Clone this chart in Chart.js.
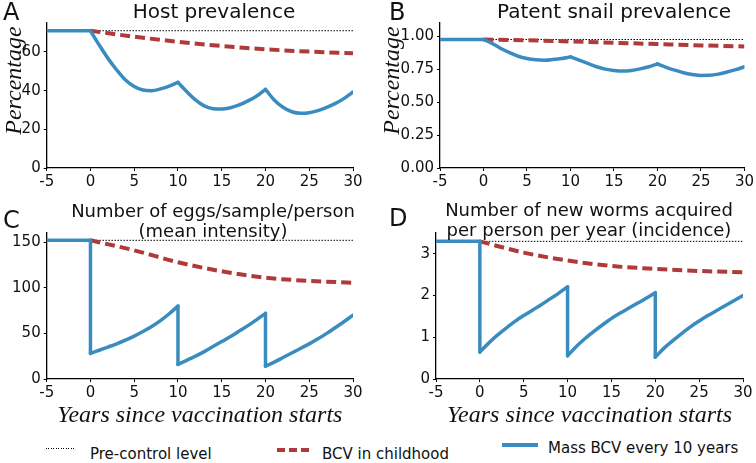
<!DOCTYPE html>
<html>
<head>
<meta charset="utf-8">
<script src="https://cdn.jsdelivr.net/npm/chart.js@4.4.0/dist/chart.umd.min.js"></script>
<style>
  body { margin: 0; background: #fff; width: 756px; height: 463px; position: relative; overflow: hidden;
         font-family: "DejaVu Sans", sans-serif; color: #111; }
  canvas { position: absolute; }
  .ttl { position: absolute; font-size: 18px; line-height: 20px; white-space: nowrap; text-align: center; transform: translateX(-50%); }
  .big { font-size: 20px; line-height: 22px; }
  .letter { position: absolute; font-size: 24px; line-height: 24px; }
  .lg { position: absolute; font-size: 15px; line-height: 18px; white-space: nowrap; }
  .sw { position: absolute; }
</style>
</head>
<body>
<canvas id="chartA" width="378" height="200" style="left:0;top:0"></canvas>
<canvas id="chartB" width="378" height="200" style="left:378px;top:0"></canvas>
<canvas id="chartC" width="378" height="235" style="left:0;top:200px"></canvas>
<canvas id="chartD" width="378" height="235" style="left:378px;top:200px"></canvas>

<div class="letter" style="left:3px;top:0px">A</div>
<div class="letter" style="left:389px;top:0px">B</div>
<div class="letter" style="left:3px;top:208px">C</div>
<div class="letter" style="left:389px;top:206px">D</div>

<div class="ttl big" style="left:214px;top:0px">Host prevalence</div>
<div class="ttl big" style="left:614px;top:0px">Patent snail prevalence</div>
<div class="ttl" style="left:213px;top:201px">Number of eggs/sample/person<br>(mean intensity)</div>
<div class="ttl" style="left:589px;top:200px">Number of new worms acquired<br>per person per year (incidence)</div>

<div class="sw" style="left:46px;top:448px;width:28px;height:1px;background:repeating-linear-gradient(90deg,#000 0 1px,transparent 1px 2.5px)"></div>
<div class="lg" style="left:90px;top:445px">Pre-control level</div>
<div class="sw" style="left:277px;top:448px;width:32px;height:4px;background:repeating-linear-gradient(90deg,#b03a3a 0 8px,transparent 8px 12px)"></div>
<div class="lg" style="left:322px;top:445px">BCV in childhood</div>
<div class="sw" style="left:502px;top:443px;width:36px;height:3.5px;background:#3a8cc0"></div>
<div class="lg" style="left:548px;top:439px">Mass BCV every 10 years</div>

<script>
// x axis: years since vaccination starts
var yearTicks = [-5, 0, 5, 10, 15, 20, 25, 30];
var yearsSmooth = [-5, 0, 1, 2, 3, 4, 5, 6, 7, 8, 9, 10, 11, 12, 13, 14, 15, 16, 17, 18, 19, 20,
                   21, 22, 23, 24, 25, 26, 27, 28, 29, 30];
// mass vaccination rounds drop the value at once at 0, 10 and 20
var yearsDrop = [-5, 0, 0, 1, 2, 3, 4, 5, 6, 7, 8, 9, 10, 10, 11, 12, 13, 14, 15, 16, 17, 18, 19, 20,
                 20, 21, 22, 23, 24, 25, 26, 27, 28, 29, 30];
var roundYears = [0, 10, 20];
var yearsChild = [0, 5, 10, 15, 20, 25, 30];
var yearsPre = [0, 30];

// A: host prevalence (%)
var hostTicks = [0, 20, 40, 60];
var hostPre = [71, 71];
var hostChild = [71, 67.9, 65.3, 63.1, 61.4, 60.2, 59.3];
var hostMass = [71, 71, 63.6, 56.7, 50.7, 45.5, 42.1, 40.3, 40, 40.9, 42.4, 44.3, 39.5, 35.2, 32.1, 30.7,
                30.5, 31.2, 32.6, 34.7, 37.2, 40.7, 35.2, 31.4, 29.1, 28.3, 28.6, 29.7, 31.4, 33.4, 36, 39.3];

// B: patent snail prevalence
var snailTicks = [0, 0.25, 0.5, 0.75, 1];
var snailPre = [0.975, 0.975];
var snailChild = [0.975, 0.969, 0.96, 0.95, 0.94, 0.93, 0.922];
var snailMass = [0.975, 0.975, 0.945, 0.907, 0.875, 0.848, 0.831, 0.821, 0.818, 0.823, 0.831, 0.843,
                 0.818, 0.793, 0.768, 0.75, 0.739, 0.735, 0.74, 0.752, 0.768, 0.79,
                 0.764, 0.742, 0.723, 0.71, 0.702, 0.703, 0.712, 0.728, 0.746, 0.768];

// C: eggs/sample/person
var eggTicks = [0, 50, 100, 150];
var eggPre = [152, 152];
var eggChild = [152, 141, 128, 118, 111, 107.5, 105.5];
var eggMass = [152, 152, 28, 31.5, 35, 38.5, 42.5, 47, 52, 57.5, 64, 71.5, 80,
               16, 20.5, 25, 30, 35.5, 41, 46.5, 52.5, 58.5, 65, 72,
               14, 18.5, 23.5, 28.5, 33.5, 38.5, 44, 50, 56.5, 63, 70];

// D: new worms per person per year
var wormTicks = [0, 1, 2, 3];
var wormPre = [3.3, 3.3];
var wormChild = [3.3, 3.03, 2.84, 2.71, 2.64, 2.59, 2.56];
var wormMass = [3.3, 3.3, 0.645, 0.86, 1.05, 1.22, 1.38, 1.52, 1.65, 1.78, 1.92, 2.06, 2.21,
                0.556, 0.78, 0.97, 1.14, 1.3, 1.45, 1.58, 1.7, 1.82, 1.94, 2.07,
                0.524, 0.74, 0.92, 1.09, 1.25, 1.39, 1.52, 1.64, 1.76, 1.88, 2.0];

var blue = "#3a8cc0";
var red = "#b03a3a";
var serif = { family: "'Liberation Serif', serif", style: "italic", size: 24 };
var tickFont = { family: "'DejaVu Sans', sans-serif", size: 15 };

function pts(xs, ys) {
  return xs.map(function(x, i) { return { x: x, y: ys[i] }; });
}

// cut the mass-vaccination curve at each round so it stays smooth in between
// but keeps the sharp corner / drop at 0, 10 and 20
function massSets(xs, ys) {
  var sets = [], start = 0;
  for (var i = 1; i < xs.length; i++) {
    if (roundYears.indexOf(xs[i]) >= 0 || i == xs.length - 1) {
      var piece = pts(xs.slice(start, i + 1), ys.slice(start, i + 1));
      sets.push({
        data: piece, borderColor: blue, borderWidth: 3.5,
        borderCapStyle: "round", borderJoinStyle: "round",
        tension: 0, cubicInterpolationMode: piece.length > 2 ? "monotone" : "default"
      });
      start = i;
    }
  }
  return sets;
}

function makePanel(id, p) {
  var sets = massSets(p.massX, p.mass);
  sets.push({ data: pts(yearsChild, p.child), borderColor: red, borderWidth: 4, borderDash: [10, 5],
              cubicInterpolationMode: "monotone" });
  sets.push({ data: pts(yearsPre, p.pre), borderColor: "#000", borderWidth: 1, borderDash: [1.5, 1.5] });

  return new Chart(document.getElementById(id), {
    type: "line",
    data: { datasets: sets },
    options: {
      responsive: false,
      animation: false,
      events: [],
      elements: { point: { radius: 0 } },
      layout: { padding: p.pad },
      plugins: { legend: { display: false }, tooltip: { enabled: false } },
      scales: {
        x: {
          type: "linear", min: -5, max: 30,
          afterBuildTicks: function(s) { s.ticks = yearTicks.map(function(v) { return { value: v }; }); },
          afterFit: function(s) { s.height = p.xh; },
          grid: { drawOnChartArea: false, tickLength: 3, color: "#000" },
          border: { color: "#000", width: 1.3 },
          ticks: { font: tickFont, color: "#111", padding: 2, maxRotation: 0 },
          title: { display: p.xTitle, text: "Years since vaccination starts", font: serif, color: "#111",
                   padding: { top: 0, bottom: 0 } }
        },
        y: {
          type: "linear", min: 0, max: p.ymax,
          afterBuildTicks: function(s) { s.ticks = p.yTicks.map(function(v) { return { value: v }; }); },
          afterFit: function(s) { s.width = p.yw; },
          grid: { drawOnChartArea: false, tickLength: 3, color: "#000" },
          border: { color: "#000", width: 1.3 },
          ticks: { font: tickFont, color: "#111", padding: 3, callback: p.fmt },
          // leading spaces lift the label a little above the axis middle, as in the figure
          title: { display: p.yTitle, text: "     Percentage", font: serif, color: "#111",
                   padding: { top: 0, bottom: 0 } }
        }
      }
    }
  });
}

makePanel("chartA", { massX: yearsSmooth, mass: hostMass, child: hostChild, pre: hostPre,
  ymax: 75, yTicks: hostTicks, yw: 46.7, xh: 32, pad: { top: 23, right: 25, left: 0, bottom: 0 },
  yTitle: true, xTitle: false });

makePanel("chartB", { massX: yearsSmooth, mass: snailMass, child: snailChild, pre: snailPre,
  ymax: 1.1, yTicks: snailTicks, yw: 62, xh: 32, pad: { top: 23, right: 10, left: 0, bottom: 0 },
  yTitle: true, xTitle: false, fmt: function(v) { return v.toFixed(2); } });

makePanel("chartC", { massX: yearsDrop, mass: eggMass, child: eggChild, pre: eggPre,
  ymax: 160, yTicks: eggTicks, yw: 46.7, xh: 51.4, pad: { top: 33, right: 25, left: 0, bottom: 4.6 },
  yTitle: false, xTitle: true });

makePanel("chartD", { massX: yearsDrop, mass: wormMass, child: wormChild, pre: wormPre,
  ymax: 3.5, yTicks: wormTicks, yw: 58, xh: 51.4, pad: { top: 33, right: 13, left: 0, bottom: 4.6 },
  yTitle: false, xTitle: true });
</script>
</body>
</html>
